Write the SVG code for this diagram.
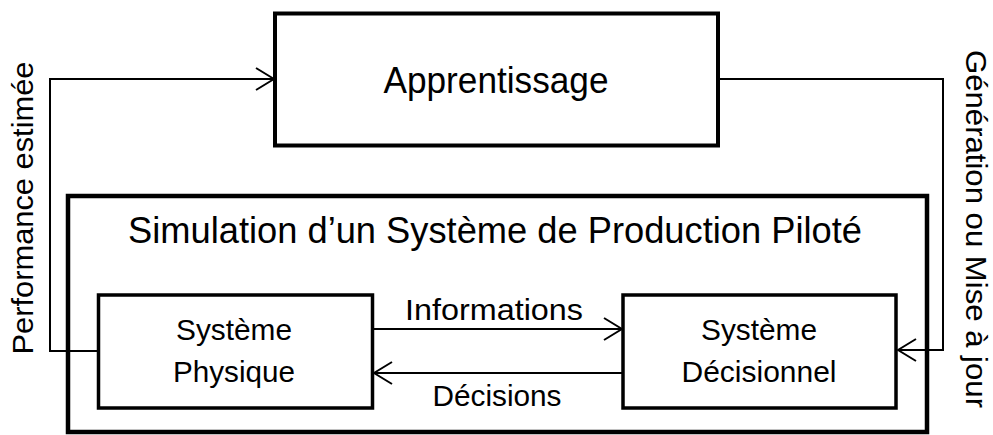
<svg xmlns="http://www.w3.org/2000/svg" width="993" height="435" viewBox="0 0 993 435">
<defs>
<style>
.txt{font-family:"Liberation Sans",Arial,sans-serif;fill:#000;}
.big{font-size:36px;}
.small{font-size:30px;}
.box{fill:#fff;stroke:#000;stroke-linejoin:miter;}
.conn{fill:none;stroke:#000;stroke-width:2;}
</style>
<marker id="arr" viewBox="0 0 20 24" refX="19" refY="12" markerWidth="20" markerHeight="24" markerUnits="userSpaceOnUse" orient="auto">
<path d="M1,1 L19,12 L1,23" fill="none" stroke="#000" stroke-width="2"/>
</marker>
</defs>
<rect width="993" height="435" fill="#fff"/>
<g id="connectors">
<polyline class="conn" points="98,351 50,351 50,79 274,79" marker-end="url(#arr)"/>
<polyline class="conn" points="718,79 943,79 943,350 898,350" marker-end="url(#arr)"/>
<line class="conn" x1="373" y1="329" x2="622" y2="329" marker-end="url(#arr)"/>
<line class="conn" x1="623" y1="373" x2="374" y2="373" marker-end="url(#arr)"/>
</g>
<g id="apprentissage">
<rect class="box" x="275" y="13.5" width="443" height="132" stroke-width="4"/>
<text class="txt big" x="496" y="93" text-anchor="middle" textLength="225" lengthAdjust="spacingAndGlyphs">Apprentissage</text>
</g>
<g id="simulation">
<rect x="68" y="196" width="859" height="236" fill="none" stroke="#000" stroke-width="4.5"/>
<text class="txt big" x="495" y="243" text-anchor="middle" textLength="734" lengthAdjust="spacingAndGlyphs">Simulation d’un Système de Production Piloté</text>
</g>
<g id="systeme-physique">
<rect class="box" x="98.5" y="295" width="274" height="113" stroke-width="3.5"/>
<text class="txt small" x="234" y="340" text-anchor="middle" textLength="116" lengthAdjust="spacingAndGlyphs">Système</text>
<text class="txt small" x="234" y="382" text-anchor="middle" textLength="122" lengthAdjust="spacingAndGlyphs">Physique</text>
</g>
<g id="systeme-decisionnel">
<rect class="box" x="623" y="295" width="273" height="113" stroke-width="3.5"/>
<text class="txt small" x="759" y="340" text-anchor="middle" textLength="116" lengthAdjust="spacingAndGlyphs">Système</text>
<text class="txt small" x="759" y="382" text-anchor="middle" textLength="155" lengthAdjust="spacingAndGlyphs">Décisionnel</text>
</g>
<g id="labels">
<text class="txt small" x="494" y="320" text-anchor="middle" textLength="178" lengthAdjust="spacingAndGlyphs">Informations</text>
<text class="txt small" x="497" y="406" text-anchor="middle" textLength="129" lengthAdjust="spacingAndGlyphs">Décisions</text>
<text class="txt small" transform="translate(33,208) rotate(-90)" x="0" y="0" text-anchor="middle" textLength="293" lengthAdjust="spacingAndGlyphs">Performance estimée</text>
<text class="txt small" transform="translate(966,229) rotate(90)" x="0" y="0" text-anchor="middle" textLength="358" lengthAdjust="spacingAndGlyphs">Génération ou Mise à jour</text>
</g>
</svg>
